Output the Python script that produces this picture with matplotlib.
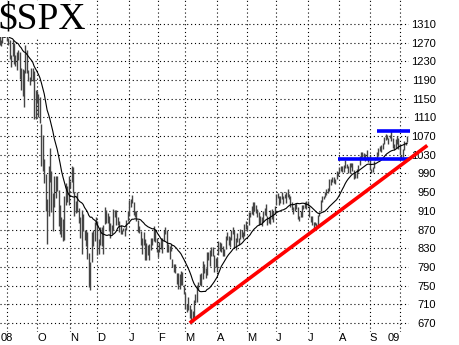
"""
$SPX daily bar chart, Sep 2008 - Oct 2009, with 20-day moving average,
red up-trend line and blue support/resistance lines.
"""

import numpy as np
import pandas as pd
import matplotlib.pyplot as plt

# daily high / low / close, one list per month (trading days)
aug08_hi = [1270, 1260, 1285, 1292, 1286, 1297, 1313, 1306, 1294, 1300, 1301, 1304, 1279, 1276, 1280, 1294, 1292, 1275, 1287, 1301, 1300]
aug08_lo = [1254, 1247, 1249, 1276, 1264, 1262, 1292, 1284, 1274, 1276, 1288, 1275, 1261, 1263, 1261, 1277, 1264, 1262, 1270, 1282, 1282]
aug08_cl = [1260, 1249, 1285, 1289, 1266, 1296, 1305, 1290, 1286, 1293, 1298, 1279, 1267, 1275, 1278, 1292, 1267, 1272, 1282, 1301, 1283]

sep08_hi = [1303, 1281, 1275, 1244, 1275, 1270, 1243, 1250, 1255, 1250, 1215, 1214, 1211, 1265, 1255, 1212, 1197, 1215, 1215, 1210, 1169]
sep08_lo = [1273, 1265, 1236, 1217, 1241, 1224, 1221, 1212, 1233, 1192, 1169, 1155, 1133, 1206, 1205, 1187, 1179, 1187, 1187, 1106, 1106]
sep08_cl = [1278, 1275, 1237, 1242, 1268, 1225, 1232, 1249, 1252, 1193, 1214, 1156, 1207, 1255, 1207, 1188, 1186, 1209, 1213, 1106, 1166]

oct08_hi = [1167, 1161, 1153, 1097, 1072, 1021, 988, 936, 1006, 1044, 995, 948, 984, 985, 985, 955, 922, 896, 893, 941, 969, 963, 984]
oct08_lo = [1140, 1111, 1098, 1007, 996, 970, 909, 840, 900, 972, 907, 866, 918, 937, 952, 877, 860, 853, 846, 848, 922, 928, 923]
oct08_cl = [1161, 1114, 1099, 1057, 996, 985, 910, 899, 1003, 998, 908, 946, 941, 985, 955, 897, 908, 877, 849, 941, 930, 954, 969]

nov08_hi = [975, 1007, 1004, 950, 932, 951, 917, 896, 912, 904, 870, 868, 864, 820, 801, 865, 868, 887, 897]
nov08_lo = [958, 971, 949, 899, 906, 907, 883, 852, 818, 867, 847, 834, 806, 747, 741, 801, 834, 846, 880]
nov08_cl = [966, 1006, 953, 905, 931, 919, 899, 852, 911, 873, 851, 859, 807, 752, 800, 852, 857, 888, 896]

dec08_hi = [888, 850, 875, 875, 879, 919, 912, 906, 898, 883, 879, 914, 911, 911, 896, 889, 880, 870, 873, 874, 891, 910]
dec08_lo = [815, 818, 837, 834, 818, 882, 884, 884, 867, 851, 860, 869, 896, 880, 880, 865, 860, 861, 866, 857, 870, 889]
dec08_cl = [816, 849, 871, 845, 876, 910, 889, 899, 874, 880, 869, 913, 904, 885, 888, 872, 863, 868, 873, 869, 891, 903]

jan09_hi = [934, 936, 944, 928, 910, 910, 890, 877, 867, 852, 864, 850, 841, 838, 839, 852, 851, 877, 872, 851]
jan09_lo = [900, 919, 927, 902, 897, 888, 864, 862, 836, 818, 838, 804, 804, 816, 804, 827, 836, 845, 844, 821]
jan09_cl = [932, 927, 935, 907, 910, 890, 870, 872, 843, 844, 850, 805, 840, 828, 832, 837, 846, 874, 845, 826]

feb09_hi = [826, 843, 851, 851, 870, 876, 868, 839, 835, 839, 807, 797, 797, 778, 777, 775, 781, 779, 751]
feb09_lo = [812, 822, 829, 819, 845, 861, 822, 823, 808, 825, 789, 780, 777, 754, 743, 743, 752, 751, 733]
feb09_cl = [825, 839, 832, 846, 869, 870, 827, 834, 835, 827, 789, 788, 779, 770, 743, 773, 765, 753, 735]

mar09_hi = [735, 711, 726, 708, 700, 695, 719, 731, 752, 758, 774, 778, 803, 796, 788, 823, 823, 826, 833, 832, 815, 810]
mar09_lo = [700, 693, 698, 681, 667, 673, 679, 713, 714, 741, 751, 749, 765, 777, 766, 772, 805, 791, 814, 814, 779, 790]
mar09_cl = [701, 696, 713, 683, 683, 677, 720, 721, 751, 757, 754, 778, 794, 784, 769, 823, 806, 814, 833, 816, 788, 798]

apr09_hi = [811, 845, 843, 842, 835, 828, 857, 864, 856, 853, 870, 875, 868, 851, 862, 852, 872, 868, 864, 882, 888]
apr09_lo = [779, 815, 824, 823, 814, 814, 828, 847, 838, 832, 848, 861, 832, 827, 843, 836, 850, 855, 850, 856, 871]
apr09_cl = [811, 834, 843, 835, 816, 825, 857, 859, 842, 852, 865, 870, 832, 850, 844, 852, 866, 858, 855, 874, 873]

may09_hi = [880, 907, 907, 920, 930, 930, 922, 915, 908, 898, 897, 910, 917, 924, 900, 896, 911, 913, 909, 920]
may09_lo = [866, 879, 897, 904, 902, 909, 906, 896, 880, 882, 878, 887, 902, 898, 880, 884, 881, 892, 887, 903]
may09_cl = [878, 907, 904, 920, 907, 929, 909, 908, 884, 893, 883, 910, 908, 903, 888, 887, 910, 893, 907, 919]

jun09_hi = [947, 949, 942, 942, 951, 942, 947, 950, 956, 946, 942, 928, 918, 924, 927, 918, 898, 910, 922, 922, 928, 931]
jun09_lo = [923, 938, 923, 927, 935, 925, 937, 927, 939, 936, 919, 911, 903, 910, 915, 893, 888, 896, 897, 913, 917, 913]
jun09_cl = [943, 945, 932, 942, 940, 939, 942, 939, 945, 946, 924, 912, 911, 918, 921, 893, 895, 901, 920, 919, 927, 919]

jul09_hi = [931, 921, 899, 898, 886, 887, 884, 901, 907, 933, 942, 941, 951, 956, 959, 979, 979, 983, 982, 978, 996, 993]
jul09_lo = [920, 896, 887, 880, 869, 879, 873, 876, 898, 910, 929, 935, 940, 943, 948, 953, 966, 972, 969, 968, 979, 985]
jul09_cl = [923, 896, 899, 881, 880, 883, 879, 901, 906, 933, 941, 940, 951, 955, 954, 976, 979, 982, 980, 975, 987, 987]

aug09_hi = [1003, 1006, 1006, 1009, 1019, 1011, 1006, 1013, 1013, 1012, 998, 991, 999, 1008, 1027, 1035, 1037, 1033, 1032, 1040, 1025]
aug09_lo = [990, 995, 994, 993, 1002, 1002, 992, 991, 1003, 995, 979, 980, 980, 994, 1009, 1022, 1026, 1021, 1017, 1023, 1015]
aug09_cl = [1003, 1006, 1003, 997, 1010, 1007, 994, 1006, 1013, 1004, 980, 990, 996, 1007, 1026, 1026, 1028, 1028, 1031, 1029, 1021]

sep09_hi = [1029, 1000, 1004, 1017, 1026, 1036, 1045, 1049, 1050, 1056, 1069, 1074, 1072, 1067, 1073, 1080, 1066, 1053, 1064, 1070, 1065]
sep09_lo = [997, 991, 993, 1001, 1018, 1022, 1028, 1039, 1035, 1043, 1053, 1062, 1064, 1054, 1066, 1060, 1044, 1041, 1045, 1054, 1042]
sep09_cl = [998, 995, 1003, 1016, 1025, 1033, 1044, 1043, 1049, 1053, 1069, 1065, 1068, 1065, 1072, 1061, 1051, 1044, 1063, 1061, 1057]

oct09_hi = [1054, 1030, 1043, 1060, 1058, 1071]
oct09_lo = [1029, 1020, 1026, 1041, 1050, 1058]
oct09_cl = [1030, 1025, 1040, 1055, 1058, 1065]

# months shown on the axis (Sep 2008 .. Oct 2009) and their labels
month_hi = [sep08_hi, oct08_hi, nov08_hi, dec08_hi, jan09_hi, feb09_hi, mar09_hi,
            apr09_hi, may09_hi, jun09_hi, jul09_hi, aug09_hi, sep09_hi, oct09_hi]
month_lo = [sep08_lo, oct08_lo, nov08_lo, dec08_lo, jan09_lo, feb09_lo, mar09_lo,
            apr09_lo, may09_lo, jun09_lo, jul09_lo, aug09_lo, sep09_lo, oct09_lo]
month_cl = [sep08_cl, oct08_cl, nov08_cl, dec08_cl, jan09_cl, feb09_cl, mar09_cl,
            apr09_cl, may09_cl, jun09_cl, jul09_cl, aug09_cl, sep09_cl, oct09_cl]
month_labels = ['08', 'O', 'N', 'D', 'J', 'F', 'M', 'A', 'M', 'J', 'J', 'A', 'S', '09']

# annotation lines (trading-day index, price)
trend_x = [127, 292]
trend_y = [670, 1050]
resist_x = [257, 280]
resist_y = 1080
support_x = [230, 280]
support_y = 1020

y_ticks = list(range(670, 1311, 40))

# assemble the daily series; index 0 = first trading day of Sep 2008
high = np.array(aug08_hi + sum(month_hi, []), dtype=float)
low = np.array(aug08_lo + sum(month_lo, []), dtype=float)
close = np.array(aug08_cl + sum(month_cl, []), dtype=float)
idx = np.arange(len(close)) - len(aug08_cl)
ma20 = pd.Series(close).rolling(20).mean().to_numpy()

month_starts = np.concatenate([[0], np.cumsum([len(m) for m in month_cl])[:-1]])

fig = plt.figure(figsize=(4.6, 3.45), dpi=100)
ax = fig.add_axes([0, 13 / 345, 409 / 460, 332 / 345])

ax.vlines(idx, low, high, color='#444444', linewidth=1.0, zorder=2)
ax.plot(idx, ma20, color='black', linewidth=0.8, zorder=3)

ax.plot(trend_x, trend_y, color='#ff0000', linewidth=2.6, solid_capstyle='butt',
        clip_on=False, zorder=5)
ax.plot(resist_x, [resist_y, resist_y], color='#0000ff', linewidth=2.6,
        solid_capstyle='butt', clip_on=False, zorder=4)
ax.plot(support_x, [support_y, support_y], color='#0000ff', linewidth=2.6,
        solid_capstyle='butt', clip_on=False, zorder=4)

ax.set_xlim(-4.7, 279.3)
ax.set_ylim(650.7, 1361.4)

ax.set_yticks(y_ticks)
ax.yaxis.tick_right()
ax.set_xticks(month_starts)
ax.set_xticklabels(month_labels)

ax.grid(True, color='black', linestyle=(0, (1, 2.5)), linewidth=0.8, zorder=1)
ax.set_axisbelow(True)
for s in ax.spines.values():
    s.set_visible(False)

ax.tick_params(axis='y', length=0, pad=19.5, labelsize=8)
ax.tick_params(axis='x', length=0, pad=1, labelsize=8)
for lab in ax.get_yticklabels():
    lab.set_horizontalalignment('right')
    lab.set_fontfamily('Liberation Sans')
for i, lab in enumerate(ax.get_xticklabels()):
    lab.set_fontfamily('Liberation Sans')
    if i == 0:
        lab.set_horizontalalignment('center')
    elif i == len(month_labels) - 1:
        lab.set_horizontalalignment('right')
    else:
        lab.set_horizontalalignment('left')

fig.text(-0.003, 0.995, r'\$SPX', family='Liberation Serif', size=27,
         ha='left', va='top', zorder=10,
         bbox=dict(facecolor='white', edgecolor='none', pad=0.5))

fig.savefig('out.png', dpi=100, facecolor='white')
